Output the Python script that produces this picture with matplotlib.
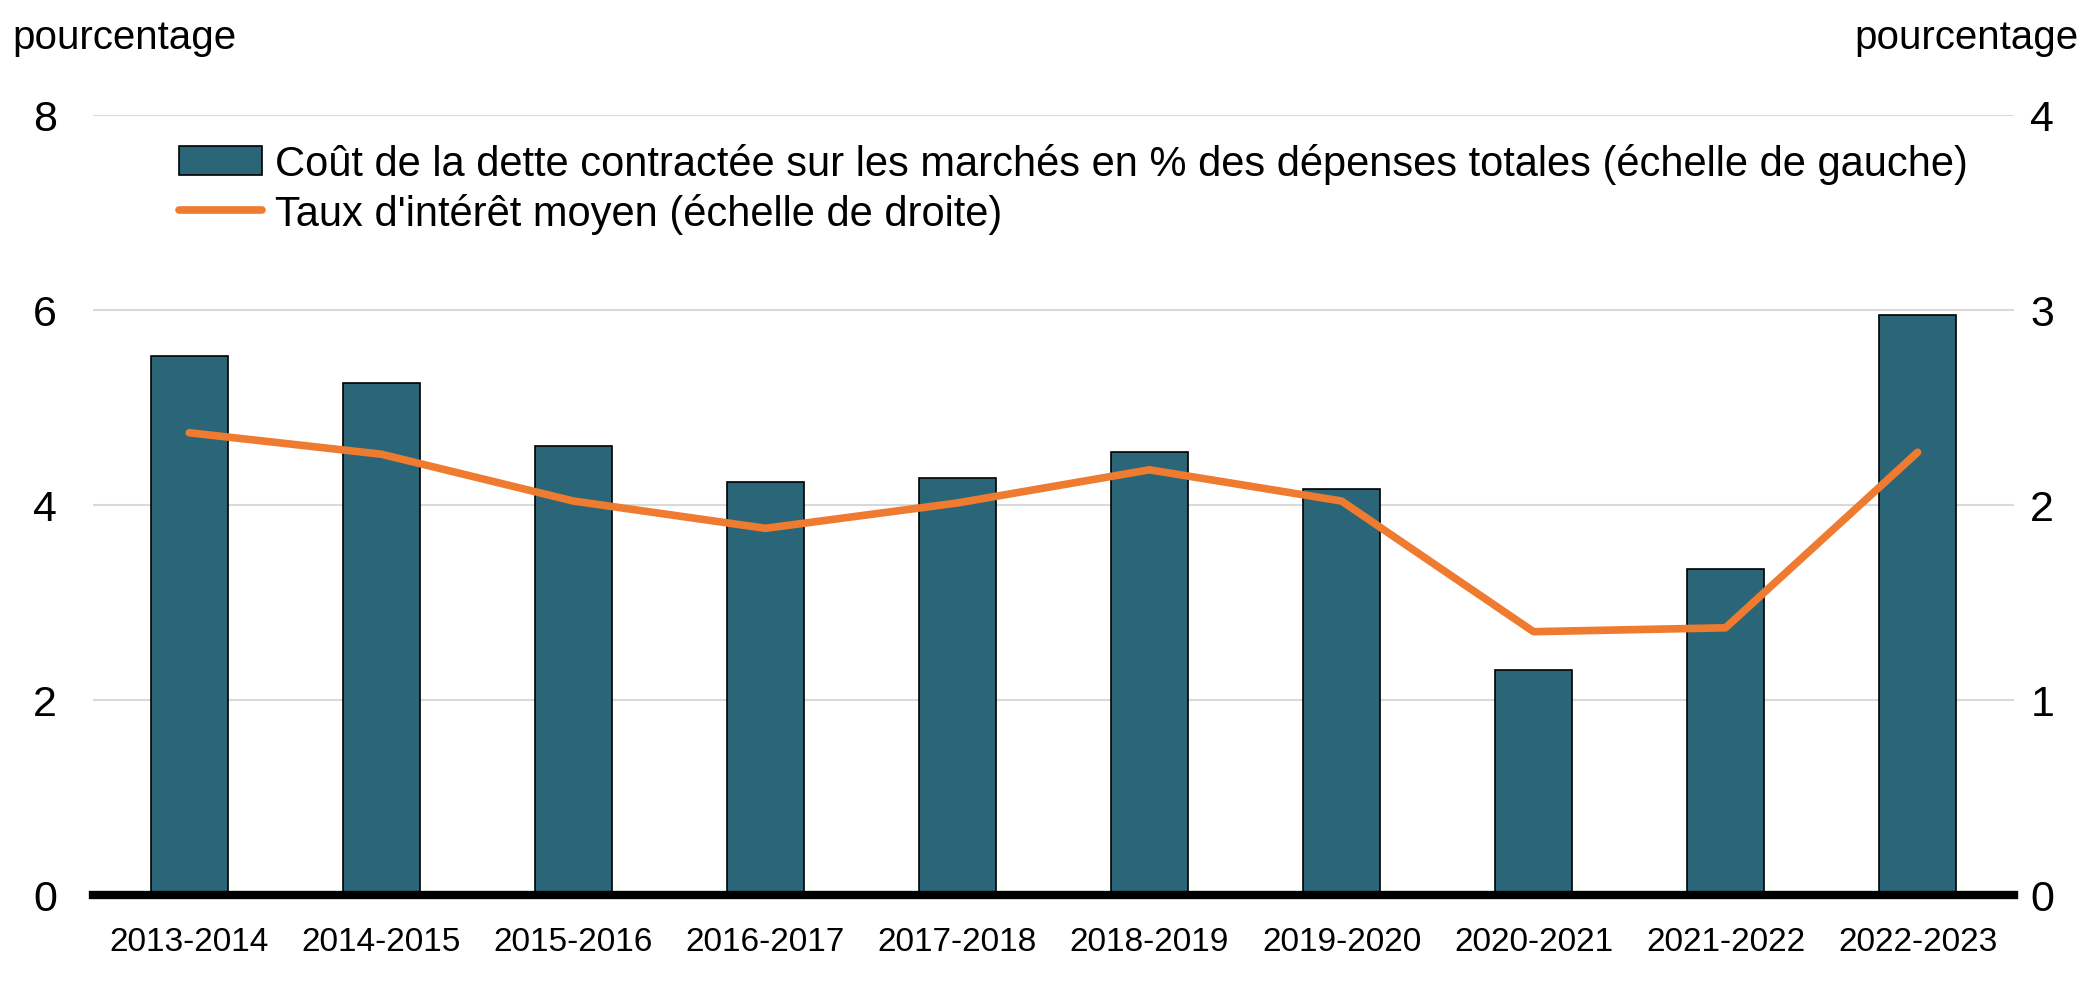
import matplotlib
matplotlib.use("Agg")
import matplotlib.pyplot as plt
import numpy as np

plt.rcParams['font.family'] = ['Liberation Sans', 'DejaVu Sans']

categories = ["2013-2014", "2014-2015", "2015-2016", "2016-2017", "2017-2018",
              "2018-2019", "2019-2020", "2020-2021", "2021-2022", "2022-2023"]
debt_cost_pct = [5.53, 5.25, 4.60, 4.23, 4.28, 4.54, 4.16, 2.31, 3.34, 5.95]
avg_rate = [2.37, 2.26, 2.02, 1.88, 2.01, 2.18, 2.02, 1.35, 1.37, 2.27]
left_ticks = [0, 2, 4, 6, 8]
right_ticks = [0, 1, 2, 3, 4]

bar_color = "#2A6678"
line_color = "#EE7B30"

fig = plt.figure(figsize=(20.91, 10.04), dpi=100)
ax = fig.add_axes([0.0446, 0.1076, 0.9184, 0.777])
ax2 = ax.twinx()

x = np.arange(len(categories))
ax.bar(x, debt_cost_pct, width=0.4, color=bar_color, edgecolor="black", linewidth=1.2,
       label="Coût de la dette contractée sur les marchés en % des dépenses totales (échelle de gauche)",
       zorder=3)
ax2.plot(x, avg_rate, color=line_color, linewidth=5.5, solid_capstyle="round",
         label="Taux d'intérêt moyen (échelle de droite)", zorder=4)

ax.set_xlim(-0.5, len(categories) - 0.5)
ax.set_ylim(0, 8)
ax2.set_ylim(0, 4)
ax.set_yticks(left_ticks)
ax2.set_yticks(right_ticks)
ax.set_xticks(x)
ax.set_xticklabels(categories, fontsize=24)
ax.tick_params(axis='y', length=0, labelsize=31, pad=26)
ax2.tick_params(axis='y', length=0, labelsize=31, pad=12)
ax.tick_params(axis='x', length=0, pad=22)

ax.grid(axis='y', color="#D9D9D9", linewidth=1.5, zorder=0)
ax.set_axisbelow(True)
for a in (ax, ax2):
    for s in ("top", "right", "left", "bottom"):
        a.spines[s].set_visible(False)
ax.axhline(0, color="black", linewidth=6, zorder=5, clip_on=False)

fig.text(0.006, 0.962, "pourcentage", fontsize=29, ha="left", va="center")
fig.text(0.994, 0.962, "pourcentage", fontsize=29, ha="right", va="center")

h1, l1 = ax.get_legend_handles_labels()
h2, l2 = ax2.get_legend_handles_labels()
leg = ax2.legend(h1 + h2, l1 + l2, loc="upper left", bbox_to_anchor=(0.036, 0.985),
                 frameon=False, fontsize=30, handlelength=2.0, handletextpad=0.3,
                 labelspacing=0.2, borderaxespad=0)

fig.savefig("out.png", dpi=100)
